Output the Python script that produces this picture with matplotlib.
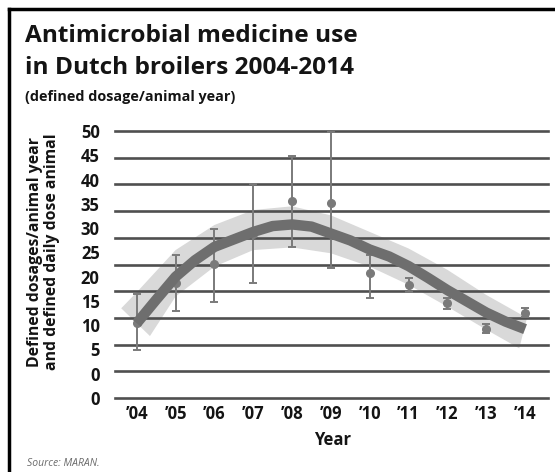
import matplotlib
matplotlib.use("Agg")
import matplotlib.pyplot as plt
from matplotlib.lines import Line2D

years = [2004, 2005, 2006, 2007, 2008, 2009, 2010, 2011, 2012, 2013, 2014]
year_labels = ["\u201904", "\u201905", "\u201906", "\u201907", "\u201908", "\u201909",
               "\u201910", "\u201911", "\u201912", "\u201913", "\u201914"]
mean_vals = [14.1, 21.5, 25.1, 30.8, 36.9, 36.6, 23.5, 21.2, 17.7, 13.0, 15.9]
err_low = [9.0, 16.2, 17.9, 21.5, 28.2, 24.3, 18.7, 19.9, 16.6, 12.1, 15.1]
err_high = [19.5, 26.8, 31.6, 40.0, 45.3, 49.8, 26.8, 22.5, 18.7, 13.9, 16.8]

trend_x = [2004, 2004.5, 2005, 2005.5, 2006, 2006.5, 2007, 2007.5, 2008, 2008.5, 2009,
           2009.5, 2010, 2010.5, 2011, 2011.5, 2012, 2012.5, 2013, 2013.5, 2014]
trend_y = [14.0, 18.4, 22.7, 25.8, 28.3, 29.7, 31.1, 32.2, 32.5, 32.1, 30.8,
           29.5, 27.8, 26.5, 24.7, 22.5, 20.2, 18.1, 16.0, 14.3, 12.9]

band_upper_x = [2003.6, 2004, 2005, 2006, 2007, 2008, 2009, 2010, 2011, 2012, 2013, 2014.05]
band_upper_y = [16.8, 19.8, 27.7, 32.4, 35.2, 35.9, 34.2, 31.1, 28.0, 24.0, 19.3, 15.0]
band_lower_x = [2004.34, 2005, 2006, 2007, 2008, 2009, 2010, 2011, 2012, 2013, 2013.85]
band_lower_y = [11.6, 19.0, 24.6, 27.7, 28.2, 27.1, 24.6, 21.2, 17.1, 12.8, 9.3]

ytick_labels = ["50", "45", "40", "35", "30", "25", "20", "15", "10", "5", "0", "0"]
grid_vals = [0, 5, 10, 15, 20, 25, 30, 35, 40, 45, 50]

W, H = 555, 472
fig = plt.figure(figsize=(W / 100, H / 100), dpi=100)
fig.patch.set_facecolor("white")

FONT = ["Open Sans", "DejaVu Sans"]
INK = "#141414"

x0, x1 = 115, 548
y_top, y_bot = 131, 398
ax = fig.add_axes([x0 / W, 1 - y_bot / H, (x1 - x0) / W, (y_bot - y_top) / H])
ax.set_xlim(2003.44, 2014.59)
ax.set_ylim(0, 50)
for s in ax.spines.values():
    s.set_visible(False)

# band
ax.fill(band_upper_x + band_lower_x[::-1], band_upper_y + band_lower_y[::-1],
        color="#d9d9d9", lw=0, zorder=1)
# gridlines
for g in grid_vals:
    ax.axhline(g, color="#4f4f4f", lw=1.9, zorder=2, clip_on=False)
# error bars
ax.errorbar(years, mean_vals,
            yerr=[[m - l for m, l in zip(mean_vals, err_low)],
                  [h - m for m, h in zip(mean_vals, err_high)]],
            fmt="o", color="#7a7a7a", ms=5.5, elinewidth=1.4, capsize=2.6,
            capthick=1.4, zorder=3, clip_on=False)
# trend
ax.plot(trend_x, trend_y, color="#6e6e6e", lw=7.5, solid_capstyle="butt",
        solid_joinstyle="round", zorder=4)

ax.set_xticks(years)
ax.set_xticklabels(year_labels, fontsize=12, fontweight="bold", family=FONT)
ytick_pos = [50 - i * 50 / 11 for i in range(12)]
ax.set_yticks(ytick_pos)
ax.set_yticklabels(ytick_labels, fontsize=12, fontweight="bold", family=FONT)
ax.tick_params(axis="both", length=0, colors=INK)
ax.tick_params(axis="y", pad=11)
ax.tick_params(axis="x", pad=5)

# text
fig.text(25 / W, 1 - 42 / H, "Antimicrobial medicine use", fontsize=17.6,
         fontweight="bold", family=FONT, color=INK, va="baseline")
fig.text(25 / W, 1 - 74 / H, "in Dutch broilers 2004-2014", fontsize=17.6,
         fontweight="bold", family=FONT, color=INK, va="baseline")
fig.text(25 / W, 1 - 101 / H, "(defined dosage/animal year)", fontsize=10.4,
         fontweight="bold", family=FONT, color=INK, va="baseline")
fig.text(35 / W, 1 - 252 / H, "Defined dosages/animal year", rotation=90,
         fontsize=11.3, fontweight="bold", family=FONT, color=INK,
         ha="center", va="center")
fig.text(52 / W, 1 - 252 / H, "and defined daily dose animal", rotation=90,
         fontsize=11.3, fontweight="bold", family=FONT, color=INK,
         ha="center", va="center")
fig.text(333 / W, 1 - 440 / H, "Year", fontsize=12, fontweight="bold",
         family=FONT, color=INK, ha="center", va="center")
fig.text(27 / W, 1 - 463 / H, "Source: MARAN.", fontsize=7.5, style="italic",
         family=FONT, color="#6a6a6a", va="center")

# frame lines (top and left)
fig.add_artist(Line2D([9 / W, 1], [1 - 9 / H, 1 - 9 / H], color="black", lw=2.5,
                      transform=fig.transFigure))
fig.add_artist(Line2D([9 / W, 9 / W], [0, 1 - 9 / H], color="black", lw=2.5,
                      transform=fig.transFigure))

fig.savefig("out.png", dpi=100)
